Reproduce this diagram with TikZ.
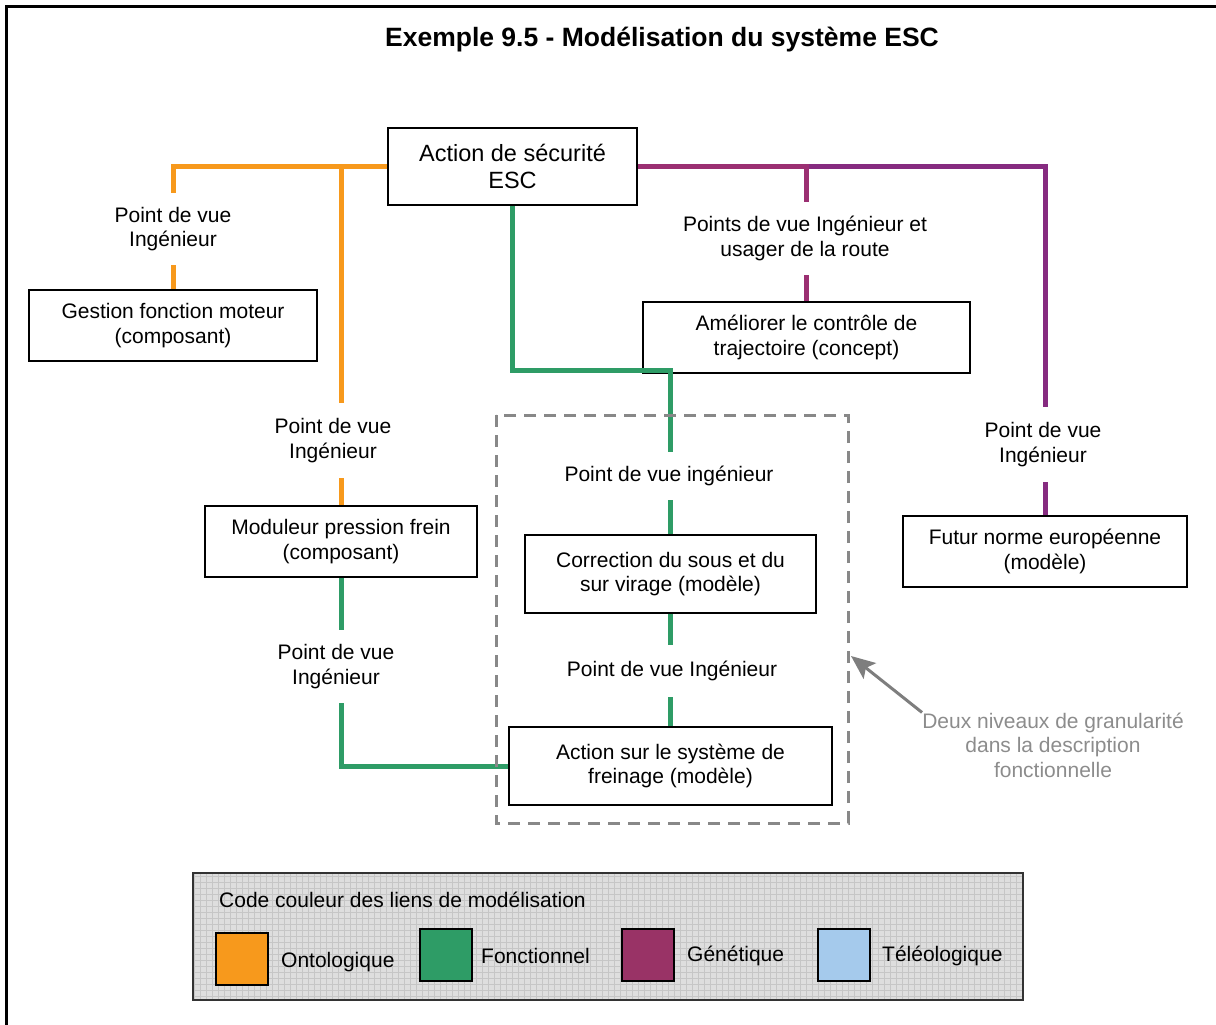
\documentclass[tikz,border=0pt]{standalone}
\usepackage{fontspec}
\setmainfont{Liberation Sans}
\usetikzlibrary{arrows.meta}
\definecolor{ora}{HTML}{F7991C}
\definecolor{grn}{HTML}{2E9C66}
\definecolor{pur}{HTML}{862B80}
\definecolor{mag}{HTML}{9B2F72}
\definecolor{swpur}{HTML}{993366}
\definecolor{swblue}{HTML}{A5CAEC}
\definecolor{dashgray}{HTML}{888888}
\definecolor{notegray}{HTML}{8C8C8C}
\definecolor{leggray}{HTML}{DEDEDE}
\definecolor{gridc}{HTML}{C6C6C6}
\definecolor{legborder}{HTML}{333333}
\begin{document}
\begin{tikzpicture}[x=1pt,y=-1pt,
  txt/.style={font=\fontsize{21}{24.5}\selectfont},
  box/.style={txt, draw=black, line width=2pt, fill=white, align=center, inner sep=0pt},
  lbl/.style={txt, align=center, inner sep=0pt},
  lnk/.style={line width=5pt},
  swatch/.style={draw=black, line width=2pt, minimum width=52pt, minimum height=52pt, inner sep=0pt},
]
\useasboundingbox (0,0) rectangle (1216,1025);
\clip (0,0) rectangle (1216,1025);
\draw[line width=3pt] (6,7) rectangle (1240,1050);

\node[font=\bfseries\fontsize{26.5}{30}\selectfont] (title) at (662,40) {Exemple 9.5 - Modélisation du système ESC};

% boxes
\node[box, minimum width=249pt, minimum height=77pt, font=\fontsize{23.5}{27}\selectfont] (esc) at (512.5,166.5) {Action de sécurité\\ESC};
\node[box, minimum width=288pt, minimum height=71pt] (gestion) at (173,325.5) {Gestion fonction moteur\\(composant)};
\node[box, minimum width=272pt, minimum height=71pt] (moduleur) at (341,541.5) {Moduleur pression frein\\(composant)};
\node[box, minimum width=291pt, minimum height=78pt] (correction) at (670.5,574) {Correction du sous et du\\sur virage (modèle)};
\node[box, minimum width=323pt, minimum height=78pt] (actionsur) at (670.5,766) {Action sur le système de\\freinage (modèle)};
\node[box, minimum width=327pt, minimum height=71pt] (ameliorer) at (806.5,337.5) {Améliorer le contrôle de\\trajectoire (concept)};
\node[box, minimum width=284pt, minimum height=71pt] (futur) at (1045,551.5) {Futur norme européenne\\(modèle)};

% labels
\node[lbl, minimum height=72pt] (lblG) at (173,229) {Point de vue\\Ingénieur};
\node[lbl, minimum height=75pt] (lblM) at (333,440.5) {Point de vue\\Ingénieur};
\node[lbl, minimum height=73pt] (lblMA) at (336,666.5) {Point de vue\\Ingénieur};
\node[lbl, minimum height=48pt] (lblEC) at (669,476) {Point de vue ingénieur};
\node[lbl, minimum height=52pt] (lblCA) at (672,671) {Point de vue Ingénieur};
\node[lbl, minimum height=73pt] (lblAm) at (805,238.5) {Points de vue Ingénieur et\\usager de la route};
\node[lbl, minimum height=75pt] (lblF) at (1043,444.5) {Point de vue\\Ingénieur};

\coordinate (gk) at (670.5,370);

% orange links
\draw[lnk, ora] (esc.west) -| (lblG.north);
\draw[lnk, ora] (lblG.south) -- (gestion.north);
\draw[lnk, ora] (esc.west) -| (moduleur.north |- lblM.north);
\draw[lnk, ora] (moduleur.north |- lblM.south) -- (moduleur.north);

% green links
\draw[lnk, grn] (esc.south) |- (gk) -- (correction.north |- lblEC.north);
\draw[lnk, grn] (correction.north |- lblEC.south) -- (correction.north);
\draw[lnk, grn] (correction.south) -- (correction.south |- lblCA.north);
\draw[lnk, grn] (actionsur.north |- lblCA.south) -- (actionsur.north);
\draw[lnk, grn] (moduleur.south) -- (moduleur.south |- lblMA.north);
\draw[lnk, grn] (moduleur.south |- lblMA.south) |- (actionsur.west);

% purple links
\draw[lnk, pur] (esc.east) -| (futur.north |- lblF.north);
\draw[lnk, pur] (futur.north |- lblF.south) -- (futur.north);
\draw[lnk, mag] (esc.east) -| (ameliorer.north |- lblAm.north);
\draw[lnk, mag] (ameliorer.north |- lblAm.south) -- (ameliorer.north);

% dashed group
\draw[dashgray, line width=3pt, dash pattern=on 12pt off 8pt] (496,415) rectangle (848,823);

% note
\node[lbl, text=notegray] (note) at (1053,745) {Deux niveaux de granularité\\dans la description\\fonctionnelle};
\coordinate (tip) at (851,656);
\draw[notegray!90!black, line width=3pt, -{Stealth[length=24pt, width=20pt, inset=5pt]}] (note.north west) -- (tip);

% legend
\node[draw=legborder, line width=2.5pt, fill=leggray, minimum width=830pt, minimum height=127pt, inner sep=0pt,
  path picture={\draw[gridc, line width=0.5pt, step=6pt] (path picture bounding box.south west) grid (path picture bounding box.north east);}] (legend) at (608,936.5) {};
\node[txt, anchor=west, inner sep=0pt] (legtitle) at (219,900) {Code couleur des liens de modélisation};
\node[swatch, fill=ora] (sw1) at (242,959) {};
\node[txt, anchor=west, inner sep=0pt] (t1) at (281,962) {Ontologique};
\node[swatch, fill=grn] (sw2) at (446,955) {};
\node[txt, anchor=west, inner sep=0pt] (t2) at (481,956) {Fonctionnel};
\node[swatch, fill=swpur] (sw3) at (648,955) {};
\node[txt, anchor=west, inner sep=0pt] (t3) at (687,956) {Génétique};
\node[swatch, fill=swblue] (sw4) at (844,955) {};
\node[txt, anchor=west, inner sep=0pt] (t4) at (882,956) {Téléologique};
\end{tikzpicture}
\end{document}
